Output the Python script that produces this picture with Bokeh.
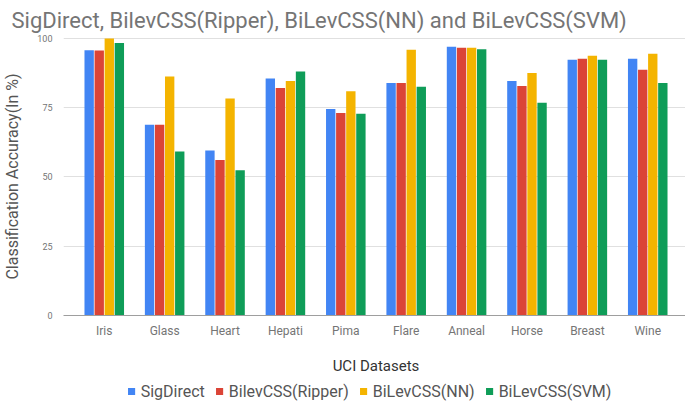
from bokeh.plotting import figure
from bokeh.models import ColumnDataSource, FactorRange, Range1d, Legend, LegendItem, FixedTicker
from bokeh.layouts import column
from bokeh.transform import dodge
from bokeh.embed import file_html
from bokeh.resources import INLINE

datasets = ["Iris", "Glass", "Heart", "Hepati", "Pima", "Flare", "Anneal", "Horse", "Breast", "Wine"]
series_names = ["SigDirect", "BilevCSS(Ripper)", "BiLevCSS(NN)", "BiLevCSS(SVM)"]
sigdirect = [95.7, 68.8, 59.5, 85.5, 74.5, 83.9, 97.0, 84.6, 92.3, 92.6]
ripper = [95.6, 68.8, 56.1, 82.1, 73.1, 83.9, 96.6, 82.8, 92.6, 88.7]
nn = [99.9, 86.2, 78.3, 84.6, 80.9, 95.9, 96.6, 87.5, 93.7, 94.4]
svm = [98.3, 59.2, 52.4, 88.0, 72.8, 82.5, 96.1, 76.8, 92.3, 83.9]
y_ticks = [0, 25, 50, 75, 100]
colors = ["#4285F4", "#DB4437", "#F4B400", "#0F9D58"]

source = ColumnDataSource(dict(ds=datasets, s0=sigdirect, s1=ripper, s2=nn, s3=svm))

p = figure(frame_width=625, frame_height=278, output_backend="svg", toolbar_location=None,
           x_range=FactorRange(factors=datasets, range_padding=0.035),
           y_range=Range1d(0, 100.3),
           title="SigDirect, BilevCSS(Ripper), BiLevCSS(NN) and BiLevCSS(SVM)",
           min_border_left=50, min_border_right=0, min_border_top=0, min_border_bottom=63)

p.title.text_font = "Roboto"
p.title.text_font_size = "22px"
p.title.text_font_style = "normal"
p.title.text_color = "#757575"
p.title.offset = -52
p.title.standoff = 10

offsets = [-0.25, -0.0833, 0.0833, 0.25]
cols = ["s0", "s1", "s2", "s3"]
for i, (col, c) in enumerate(zip(cols, colors)):
    p.vbar(x=dodge("ds", offsets[i], range=p.x_range), top=col, width=0.155,
           source=source, fill_color=c, line_color=None)

p.outline_line_color = None
p.xgrid.grid_line_color = None
p.ygrid.grid_line_color = "#e0e0e0"
p.ygrid.ticker = FixedTicker(ticks=y_ticks)

p.yaxis.ticker = FixedTicker(ticks=y_ticks)
p.yaxis.axis_line_color = None
p.yaxis.major_tick_line_color = None
p.yaxis.minor_tick_line_color = None
p.yaxis.major_label_text_font = "Roboto"
p.yaxis.major_label_text_font_size = "9px"
p.yaxis.major_label_text_color = "#757575"
p.yaxis.major_label_standoff = 5
p.yaxis.axis_label = "Classification Accuracy(In %)"
p.yaxis.axis_label_text_font = "Roboto"
p.yaxis.axis_label_text_font_size = "16px"
p.yaxis.axis_label_text_font_style = "normal"
p.yaxis.axis_label_text_color = "#555555"
p.yaxis.axis_label_standoff = 12

p.xaxis.axis_line_color = "#9e9e9e"
p.xaxis.major_tick_line_color = None
p.xaxis.minor_tick_line_color = None
p.xaxis.major_label_text_font = "Roboto"
p.xaxis.major_label_text_font_size = "12px"
p.xaxis.major_label_text_color = "#757575"
p.xaxis.major_label_standoff = 2
p.xaxis.axis_label = "UCI Datasets"
p.xaxis.axis_label_text_font = "Roboto"
p.xaxis.axis_label_text_font_size = "15px"
p.xaxis.axis_label_text_font_style = "normal"
p.xaxis.axis_label_text_color = "#333333"
p.xaxis.axis_label_standoff = 16

# legend strip below the chart (proxy glyphs lie outside the visible range)
p2 = figure(width=675, height=26, output_backend="svg", toolbar_location=None,
            x_range=Range1d(0, 1), y_range=Range1d(0, 1),
            x_axis_location=None, y_axis_location=None,
            min_border_left=0, min_border_right=0, min_border_top=0, min_border_bottom=0)
p2.outline_line_color = None
p2.grid.grid_line_color = None
items = []
for name, c in zip(series_names, colors):
    r = p2.vbar(x=[5], top=[1], width=0.1, fill_color=c, line_color=None)
    items.append(LegendItem(label=name, renderers=[r]))

legend = Legend(items=items, orientation="horizontal", location="center",
                label_text_font="Roboto", label_text_font_size="16px",
                label_text_color="#555555", glyph_width=9, glyph_height=9,
                spacing=10, label_standoff=5, padding=0, margin=0,
                border_line_color=None, background_fill_alpha=0)
p2.add_layout(legend, "center")

layout = column(p, p2, spacing=0)
open("out.html", "w").write(file_html(layout, INLINE))
